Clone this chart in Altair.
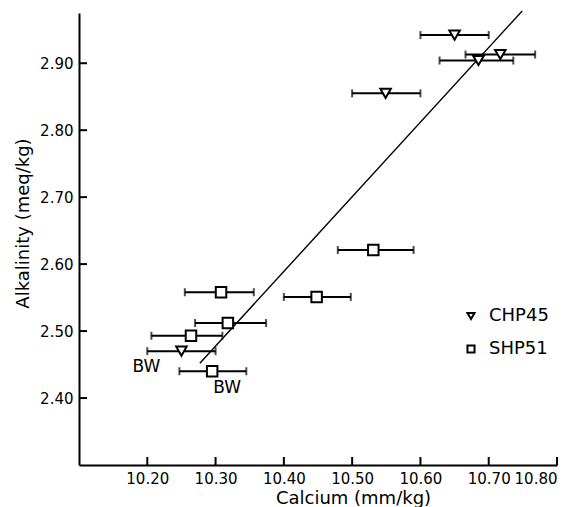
import altair as alt
import pandas as pd

# ---- data ----
series_names = ["CHP45", "SHP51"]

chp_x = [10.650, 10.717, 10.685, 10.549, 10.250]
chp_y = [2.942, 2.913, 2.904, 2.855, 2.470]
chp_lo = [10.600, 10.666, 10.628, 10.500, 10.200]
chp_hi = [10.700, 10.768, 10.736, 10.600, 10.300]

shp_x = [10.531, 10.448, 10.308, 10.318, 10.264, 10.295]
shp_y = [2.621, 2.551, 2.558, 2.512, 2.493, 2.440]
shp_lo = [10.479, 10.400, 10.255, 10.270, 10.206, 10.247]
shp_hi = [10.590, 10.498, 10.356, 10.374, 10.310, 10.345]

fit_x = [10.277, 10.749]
fit_y = [2.452, 2.978]

x_ticks = [10.20, 10.30, 10.40, 10.50, 10.60, 10.70, 10.80]
y_ticks = [2.40, 2.50, 2.60, 2.70, 2.80, 2.90]

x_domain = [10.10, 10.80]
y_domain = [2.30, 2.975]

# ---- tables ----
series_col = [series_names[0]] * len(chp_x) + [series_names[1]] * len(shp_x)
pts = pd.DataFrame({
    "ca": chp_x + shp_x,
    "alk": chp_y + shp_y,
    "lo": chp_lo + shp_lo,
    "hi": chp_hi + shp_hi,
    "series": series_col,
})
bw_tri = pd.DataFrame({"ca": [chp_x[-1]], "alk": [chp_y[-1]], "t": ["BW"]})
bw_sq = pd.DataFrame({"ca": [shp_x[-1]], "alk": [shp_y[-1]], "t": ["BW"]})
fit = pd.DataFrame({"ca": fit_x, "alk": fit_y})
xt = pd.DataFrame({"v": x_ticks})
yt = pd.DataFrame({"v": y_ticks})

W, H = 478, 452
FONT = "DejaVu Sans"

xs = alt.Scale(domain=x_domain, nice=False, zero=False)
ys = alt.Scale(domain=y_domain, nice=False, zero=False)

x_axis = alt.Axis(
    values=x_ticks, format=".2f", title="Calcium (mm/kg)",
    grid=False, tickSize=0, labelPadding=6, labelFontSize=15, labelFont=FONT,
    labelColor="black", titleFont=FONT, titleFontSize=18, titleFontWeight="normal",
    titleColor="black", domainColor="black", domainWidth=2,
    titleX=274, titleY=33, titleBaseline="middle",
)
y_axis = alt.Axis(
    values=y_ticks, format=".2f", title="Alkalinity (meq/kg)",
    grid=False, tickSize=0, labelPadding=6, labelFontSize=15, labelFont=FONT,
    labelColor="black", titleFont=FONT, titleFontSize=18, titleFontWeight="normal",
    titleColor="black", domainColor="black", domainWidth=2,
    titleX=-56, titleY=210, titleBaseline="middle", titleAlign="center",
)

legend = alt.Legend(
    title=None, orient="none", legendX=383, legendY=294,
    labelFont=FONT, labelFontSize=18, labelColor="black",
    symbolSize=50, symbolStrokeWidth=2, symbolFillColor="white", symbolOpacity=1,
    labelOffset=9, rowPadding=15, padding=0,
)

base = alt.Chart(pts)

errbars = base.mark_rule(color="black", strokeWidth=2).encode(
    x=alt.X("lo:Q", scale=xs, axis=x_axis),
    x2="hi:Q",
    y=alt.Y("alk:Q", scale=ys, axis=y_axis),
)
cap_lo = base.mark_tick(color="black", orient="vertical", size=8, thickness=2).encode(
    x=alt.X("lo:Q", scale=xs), y=alt.Y("alk:Q", scale=ys)
)
cap_hi = base.mark_tick(color="black", orient="vertical", size=8, thickness=2).encode(
    x=alt.X("hi:Q", scale=xs), y=alt.Y("alk:Q", scale=ys)
)

line = alt.Chart(fit).mark_line(color="black", strokeWidth=1.4).encode(
    x=alt.X("ca:Q", scale=xs), y=alt.Y("alk:Q", scale=ys)
)

points = base.mark_point(fill="white", strokeWidth=2, size=110, opacity=1).encode(
    x=alt.X("ca:Q", scale=xs, axis=x_axis),
    y=alt.Y("alk:Q", scale=ys, axis=y_axis),
    shape=alt.Shape(
        "series:N",
        scale=alt.Scale(domain=series_names, range=["triangle-down", "square"]),
        legend=legend,
    ),
    stroke=alt.Stroke(
        "series:N",
        scale=alt.Scale(domain=series_names, range=["black", "black"]),
        legend=legend,
    ),
)

bw1 = alt.Chart(bw_tri).mark_text(font=FONT, fontSize=17, color="black", dx=-35, dy=16).encode(
    x=alt.X("ca:Q", scale=xs), y=alt.Y("alk:Q", scale=ys), text="t:N"
)
bw2 = alt.Chart(bw_sq).mark_text(font=FONT, fontSize=17, color="black", dx=15, dy=17).encode(
    x=alt.X("ca:Q", scale=xs), y=alt.Y("alk:Q", scale=ys), text="t:N"
)

xticks = alt.Chart(xt).mark_rule(color="black", strokeWidth=2).encode(
    x=alt.X("v:Q", scale=xs), y=alt.value(H), y2=alt.value(H - 8)
)
yticks = alt.Chart(yt).mark_rule(color="black", strokeWidth=2).encode(
    y=alt.Y("v:Q", scale=ys), x=alt.value(0), x2=alt.value(8)
)

chart = alt.layer(
    errbars, cap_lo, cap_hi, line, points, bw1, bw2, xticks, yticks
).properties(
    width=W, height=H,
    padding={"left": 79, "top": 13, "right": 28, "bottom": 42},
    autosize=alt.AutoSizeParams(type="none"),
    background="white",
).configure_view(stroke=None)

chart.save("out.html", embed_options={"renderer": "svg", "actions": False})
